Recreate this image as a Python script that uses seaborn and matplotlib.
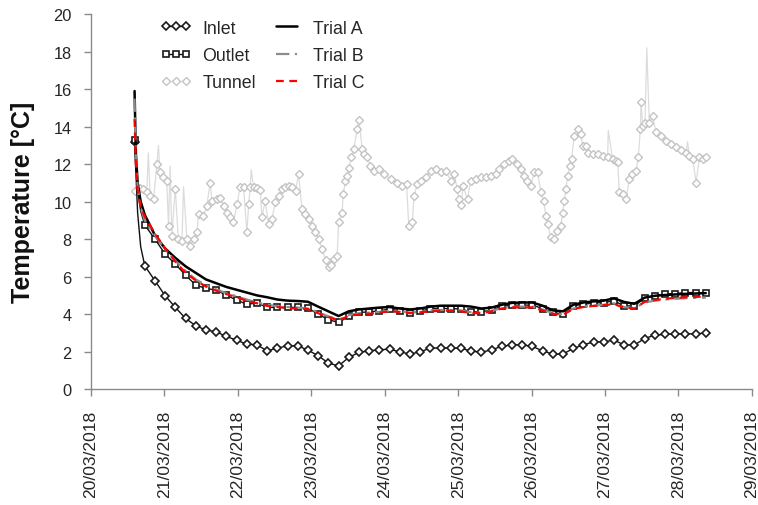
import numpy as np
import pandas as pd
import matplotlib
matplotlib.use("Agg")
import matplotlib.pyplot as plt
import matplotlib.dates as mdates
from matplotlib.lines import Line2D
import seaborn as sns

# ---------------- data ----------------
start = pd.Timestamp("2018-03-20 14:15")
step_min = 200                       # sampling interval of marked readings (minutes)

inlet = [13.2, 6.58, 5.78, 4.98, 4.36, 3.77, 3.38, 3.15, 3.06, 2.81,
         2.61, 2.40, 2.36, 2.04, 2.19, 2.31, 2.31, 2.08, 1.78, 1.39,
         1.24, 1.69, 1.96, 2.04, 2.10, 2.13, 1.99, 1.87, 1.99, 2.19,
         2.19, 2.19, 2.17, 2.04, 1.96, 2.10, 2.28, 2.36, 2.36, 2.28,
         2.04, 1.87, 1.87, 2.17, 2.36, 2.52, 2.52, 2.61, 2.36, 2.35,
         2.70, 2.88, 2.92, 2.95, 2.95, 2.95, 2.99]
outlet = [13.3, 8.76, 8.0, 7.2, 6.67, 6.08, 5.55, 5.37, 5.28, 5.01,
          4.75, 4.53, 4.59, 4.36, 4.36, 4.36, 4.36, 4.32, 4.0, 3.70,
          3.56, 3.88, 4.09, 4.12, 4.18, 4.27, 4.18, 4.05, 4.15, 4.30,
          4.30, 4.30, 4.27, 4.12, 4.12, 4.23, 4.41, 4.48, 4.48, 4.48,
          4.30, 4.09, 4.0, 4.44, 4.53, 4.59, 4.62, 4.71, 4.44, 4.44,
          4.84, 4.98, 5.07, 5.10, 5.15, 5.15, 5.12]
trial_a = [15.9, 9.3, 8.2, 7.5, 7.0, 6.55, 6.2, 5.85, 5.65, 5.45,
           5.3, 5.15, 5.0, 4.9, 4.78, 4.72, 4.7, 4.66, 4.4, 4.15,
           3.9, 4.15, 4.25, 4.3, 4.35, 4.38, 4.3, 4.25, 4.3, 4.4,
           4.45, 4.45, 4.45, 4.4, 4.3, 4.35, 4.5, 4.6, 4.62, 4.62,
           4.45, 4.2, 4.15, 4.5, 4.62, 4.68, 4.72, 4.84, 4.65, 4.55,
           4.88, 4.98, 5.02, 5.05, 5.08, 5.1, 5.12]
trial_b = [15.5, 9.0, 8.2, 7.45, 6.85, 6.3, 5.85, 5.55, 5.32, 5.12,
           4.95, 4.78, 4.62, 4.5, 4.42, 4.38, 4.35, 4.3, 4.1, 3.88,
           3.7, 3.95, 4.05, 4.08, 4.12, 4.18, 4.15, 4.08, 4.12, 4.2,
           4.22, 4.22, 4.2, 4.1, 4.08, 4.18, 4.32, 4.4, 4.4, 4.4,
           4.25, 4.05, 3.98, 4.3, 4.4, 4.45, 4.5, 4.58, 4.38, 4.32,
           4.62, 4.72, 4.78, 4.82, 4.85, 4.87, 4.88]
trial_c = [14.4, 9.2, 8.3, 7.5, 6.8, 6.2, 5.8, 5.47, 5.25, 5.07,
           4.9, 4.71, 4.58, 4.44, 4.38, 4.32, 4.3, 4.27, 4.05, 3.85,
           3.64, 3.92, 3.98, 4.02, 4.08, 4.15, 4.12, 4.05, 4.1, 4.15,
           4.18, 4.18, 4.15, 4.05, 4.05, 4.15, 4.3, 4.36, 4.36, 4.36,
           4.2, 4.02, 3.98, 4.27, 4.38, 4.44, 4.48, 4.53, 4.35, 4.3,
           4.65, 4.75, 4.82, 4.86, 4.9, 4.92, 4.94]

# extra unmarked readings during the first (fast) cooling interval
early_min = [25, 60, 120]
inlet_early = [11.6, 9.4, 7.6]
outlet_early = [12.0, 10.6, 9.5]
trial_a_early = [12.6, 11.0, 10.0]
trial_b_early = [12.4, 10.8, 9.7]
trial_c_early = [12.0, 10.6, 9.7]

# tunnel air (hours since start) - marked readings
tunnel_hours = [0.0, 1.8, 2.9, 4.0, 5.1, 6.2, 7.3, 8.3, 9.4, 10.5,
                11.1, 12.2, 13.3, 14.3, 15.5, 17.1, 18.2, 19.3, 20.4, 20.9,
                22.5, 23.6, 24.7, 25.3, 26.9, 28.0, 29.1, 30.2, 31.3, 32.3,
                33.5, 34.5, 35.6, 36.7, 37.3, 37.8, 38.9, 40.0, 41.1, 41.6,
                42.7, 43.8, 44.9, 46.0, 47.1, 48.2, 49.3, 50.4, 51.5, 52.6,
                53.6, 54.7, 55.8, 56.9, 58.0, 59.1, 60.2, 61.3, 62.4, 63.5,
                64.3, 65.1, 66.2, 66.7, 67.8, 68.2, 68.9, 69.5, 70.0, 70.8,
                71.6, 72.8, 73.3, 74.4, 74.9, 76.0, 77.1, 78.2, 79.8, 81.5,
                83.7, 85.8, 87.5, 88.9, 89.6, 90.8, 91.3, 92.4, 93.5, 95.1,
                96.8, 98.4, 100.0, 101.7, 103.3, 104.4, 105.5, 106.0, 106.8, 107.3,
                108.8, 109.8, 111.5, 113.1, 114.8, 116.4, 118.0, 119.1, 120.8, 122.4,
                123.5, 125.1, 126.2, 127.3, 128.4, 129.5, 130.6, 131.7, 132.8, 133.7,
                134.4, 135.0, 136.0, 137.1, 138.2, 139.3, 139.9, 140.4, 141.0, 141.5,
                142.4, 142.8, 143.7, 144.8, 145.9, 146.4, 147.5, 148.1, 149.7, 151.3,
                153.0, 154.6, 156.2, 157.3, 157.9, 158.4, 159.5, 160.6, 161.7, 162.6,
                163.9, 164.6, 165.3, 165.5, 166.1, 166.8, 168.2, 169.3, 170.4, 172.1,
                173.7, 175.3, 177.0, 178.6, 180.2, 181.3, 182.4, 183.5, 184.6, 185.7,
                186.8]
tunnel = [10.55, 10.75, 10.67, 10.49, 10.31, 10.13, 12.0, 11.56, 11.29, 11.11,
          8.71, 8.18, 10.7, 8.0, 7.91, 8.0, 7.64, 8.0, 8.36, 9.33,
          9.24, 9.78, 11.02, 10.04, 10.13, 10.22, 9.78, 9.42, 9.16, 8.89,
          9.87, 10.8, 10.8, 8.36, 9.87, 10.8, 10.8, 10.75, 10.63, 9.16,
          10.04, 8.8, 9.07, 9.96, 10.31, 10.67, 10.8, 10.84, 10.8, 10.58,
          11.47, 9.6, 9.33, 9.07, 8.71, 8.36, 8.0, 7.47, 6.9, 6.5,
          6.6, 6.93, 7.11, 8.89, 9.42, 10.4, 11.1, 11.38, 11.82, 12.36,
          12.8, 13.87, 14.36, 12.8, 12.53, 12.36, 11.91, 11.64, 11.73, 11.47,
          11.2, 11.02, 10.84, 10.93, 8.71, 8.89, 10.31, 10.93, 11.11, 11.29,
          11.64, 11.73, 11.56, 11.64, 11.11, 11.47, 10.67, 10.13, 9.81, 10.84,
          10.13, 11.11, 11.2, 11.29, 11.29, 11.38, 11.47, 11.73, 12.0, 12.18,
          12.27, 12.0, 11.73, 11.38, 11.11, 10.84, 11.56, 11.56, 10.49, 10.04,
          9.24, 8.8, 8.09, 8.0, 8.44, 8.71, 9.42, 10.04, 10.67, 11.38,
          11.91, 12.27, 13.51, 13.9, 13.6, 12.98, 12.98, 12.62, 12.53, 12.53,
          12.44, 12.36, 12.27, 12.18, 12.09, 10.49, 10.4, 10.13, 11.2, 11.47,
          11.64, 12.36, 13.87, 15.29, 14.04, 14.22, 14.22, 14.58, 13.69, 13.51,
          13.24, 13.07, 12.89, 12.76, 12.62, 12.44, 12.27, 11.02, 12.36, 12.27,
          12.36]
# short unmarked spikes of the tunnel sensor
spike_hours = [4.5, 7.8, 11.6, 16.0, 38.1, 154.8, 167.4, 180.7]
spike_temps = [12.6, 13.0, 11.9, 10.8, 11.7, 13.8, 18.2, 13.2]

labels = ["Inlet", "Outlet", "Tunnel", "Trial A", "Trial B", "Trial C"]
tick_start, tick_end = "2018-03-20", "2018-03-29"

# ---------------- helpers ----------------
n = len(inlet)
grid_min = np.arange(n) * step_min
line_min = np.concatenate([[0], early_min, grid_min[1:]])
marked_idx = [0] + list(range(len(early_min) + 1, len(line_min)))


def series(vals, early):
    return pd.DataFrame({
        "time": start + pd.to_timedelta(line_min, unit="min"),
        "temp": np.concatenate([[vals[0]], early, vals[1:]]),
    })


tun = pd.DataFrame({
    "hours": list(tunnel_hours) + list(spike_hours),
    "temp": list(tunnel) + list(spike_temps),
    "marked": [True] * len(tunnel) + [False] * len(spike_temps),
}).sort_values("hours").reset_index(drop=True)
tun["time"] = start + pd.to_timedelta(tun["hours"], unit="h")
tun_marks = list(np.where(tun["marked"].values)[0])

# ---------------- figure ----------------
sns.set_style("ticks")
plt.rcParams["font.family"] = ["Liberation Sans", "DejaVu Sans"]

fig = plt.figure(figsize=(7.58, 5.06), dpi=100)
ax = fig.add_axes([0.120, 0.229, 0.872, 0.741])

MS_D = 4.0   # diamond marker size
MS_S = 4.6   # square marker size

# Tunnel
sns.lineplot(data=tun, x="time", y="temp", ax=ax, color="#dcdcdc", lw=0.9,
             marker="D", markersize=MS_D, markevery=tun_marks,
             markerfacecolor="white", markeredgecolor="#c4c4c4",
             markeredgewidth=1.0, sort=False, errorbar=None, legend=False,
             zorder=1)
# Inlet
sns.lineplot(data=series(inlet, inlet_early), x="time", y="temp", ax=ax,
             color="#111111", lw=1.0, marker="D", markersize=MS_D,
             markevery=marked_idx, markerfacecolor="white",
             markeredgecolor="#1a1a1a", markeredgewidth=1.2, sort=False,
             errorbar=None, legend=False, zorder=3)
# Outlet
sns.lineplot(data=series(outlet, outlet_early), x="time", y="temp", ax=ax,
             color="#111111", lw=1.0, marker="s", markersize=MS_S,
             markevery=marked_idx, markerfacecolor="white",
             markeredgecolor="#1a1a1a", markeredgewidth=1.2, sort=False,
             errorbar=None, legend=False, zorder=4)
# Trials
sns.lineplot(data=series(trial_a, trial_a_early), x="time", y="temp", ax=ax,
             color="black", lw=1.8, sort=False, errorbar=None, legend=False,
             zorder=5)
sns.lineplot(data=series(trial_b, trial_b_early), x="time", y="temp", ax=ax,
             color="#8c8c8c", lw=1.6, linestyle=(0, (6, 2.5, 1.5, 2.5)),
             sort=False, errorbar=None, legend=False, zorder=6)
sns.lineplot(data=series(trial_c, trial_c_early), x="time", y="temp", ax=ax,
             color="#ff0000", lw=1.6, linestyle=(0, (3.5, 2.5)),
             sort=False, errorbar=None, legend=False, zorder=7)

# ---------------- axes styling ----------------
ax.set_ylim(0, 20)
ax.set_yticks(np.arange(0, 21, 2))
ax.set_xlim(pd.Timestamp(tick_start), pd.Timestamp(tick_end))
ax.xaxis.set_major_locator(mdates.DayLocator())
ax.xaxis.set_major_formatter(mdates.DateFormatter("%d/%m/%Y"))
plt.setp(ax.get_xticklabels(), rotation=90)
ax.set_xlabel("")
ax.set_ylabel("Temperature [°C]", fontsize=18, fontweight="bold",
              color="#111111", labelpad=13)

for s in ["top", "right"]:
    ax.spines[s].set_visible(False)
for s in ["left", "bottom"]:
    ax.spines[s].set_color("#8a8a8a")
    ax.spines[s].set_linewidth(1.0)
ax.tick_params(axis="both", direction="out", length=5, width=1,
               color="#8a8a8a", labelcolor="#262626")
ax.tick_params(axis="y", labelsize=11.8, pad=9)
ax.tick_params(axis="x", labelsize=12.6, pad=10)

# ---------------- legend ----------------
handles = [
    Line2D([], [], color="#111111", lw=1.0, marker="D", ms=MS_D, mfc="white",
           mec="#1a1a1a", mew=1.2),
    Line2D([], [], color="#111111", lw=1.0, marker="s", ms=MS_S, mfc="white",
           mec="#1a1a1a", mew=1.2),
    Line2D([], [], color="#dcdcdc", lw=0.9, marker="D", ms=MS_D, mfc="white",
           mec="#c4c4c4", mew=1.0),
    Line2D([], [], color="black", lw=1.8),
    Line2D([], [], color="#8c8c8c", lw=1.6, ls=(0, (6, 2.5, 1.5, 2.5))),
    Line2D([], [], color="#ff0000", lw=1.6, ls=(0, (3.5, 2.5))),
]
ax.legend(handles, labels, ncol=2, loc="upper left",
          bbox_to_anchor=(0.1, 0.995), frameon=False, numpoints=3,
          handlelength=1.75, handletextpad=0.6, columnspacing=0.85,
          labelspacing=0.57, borderpad=0.2, borderaxespad=0.0, fontsize=12.8)

fig.savefig("out.png", dpi=100, facecolor="white")
